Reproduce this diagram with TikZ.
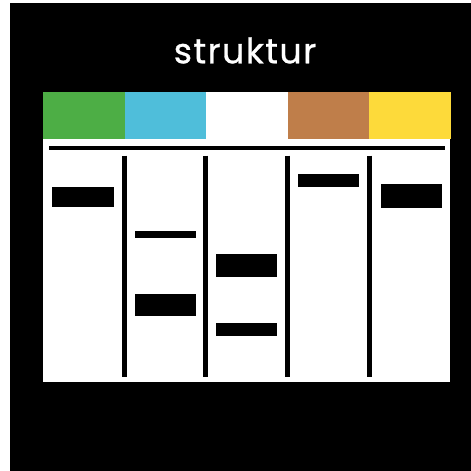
\documentclass[tikz,border=0pt]{standalone}
\usepackage{fontspec}
\newfontfamily\titlefont[FakeBold=0.8, LetterSpace=4]{Poppins}
\usetikzlibrary{positioning}
\definecolor{colgreen}{HTML}{4DAE45}
\definecolor{colblue}{HTML}{4FBEDA}
\definecolor{colbrown}{HTML}{BF7E4A}
\definecolor{colyellow}{HTML}{FDDA3A}
\tikzset{
  header/.style={fill=#1, draw=none, anchor=north west, minimum width=81.5pt, minimum height=47pt, inner sep=0pt, outer sep=0pt},
  card/.style={fill=black, draw=none, minimum width=61.5pt, minimum height=#1, inner sep=0pt, outer sep=0pt},
  lane/.style={line width=5pt, black},
}
\begin{document}
\begin{tikzpicture}[x=1pt, y=-1pt]
\useasboundingbox (0,0) rectangle (471,471);
\fill[white] (0,0) rectangle (471,471);
\fill[black] (10,3) rectangle (471,471);
\node[font=\titlefont\fontsize{35}{40}\selectfont, text=white, anchor=base, inner sep=0pt] (title) at (245,63.3) {struktur};

% board
\node[fill=white, anchor=north west, minimum width=407pt, minimum height=290pt, inner sep=0pt] (board) at (43,92) {};
\node[header=colgreen] (h1) at (43,92) {};
\node[header=colblue, right=0pt of h1] (h2) {};
\node[header=white, right=0pt of h2] (h3) {};
\node[header=colbrown, right=0pt of h3] (h4) {};
\node[header=colyellow, right=0pt of h4] (h5) {};

\coordinate (topl) at (49,148);
\coordinate (topr) at (445,148);
\draw[line width=4pt] (topl) -- (topr);
\foreach \x [count=\i] in {124.8,205.8,287.8,369.2} {
  \coordinate (lt\i) at (\x,155.7);
  \coordinate (lb\i) at (\x,376.7);
  \draw[lane] (lt\i) -- (lb\i);
}

% cards
\node[card=20pt] (a) at (83,197) {};
\node[card=7pt] (b) at (165.3,234.2) {};
\node[card=22.6pt] (c) at (165.3,305) {};
\node[card=22.7pt] (d) at (246.7,265.7) {};
\node[card=13.3pt] (e) at (246.7,329.7) {};
\node[card=13.3pt] (f) at (328.5,180.3) {};
\node[card=23.7pt] (g) at (411.3,196.2) {};
\end{tikzpicture}
\end{document}
